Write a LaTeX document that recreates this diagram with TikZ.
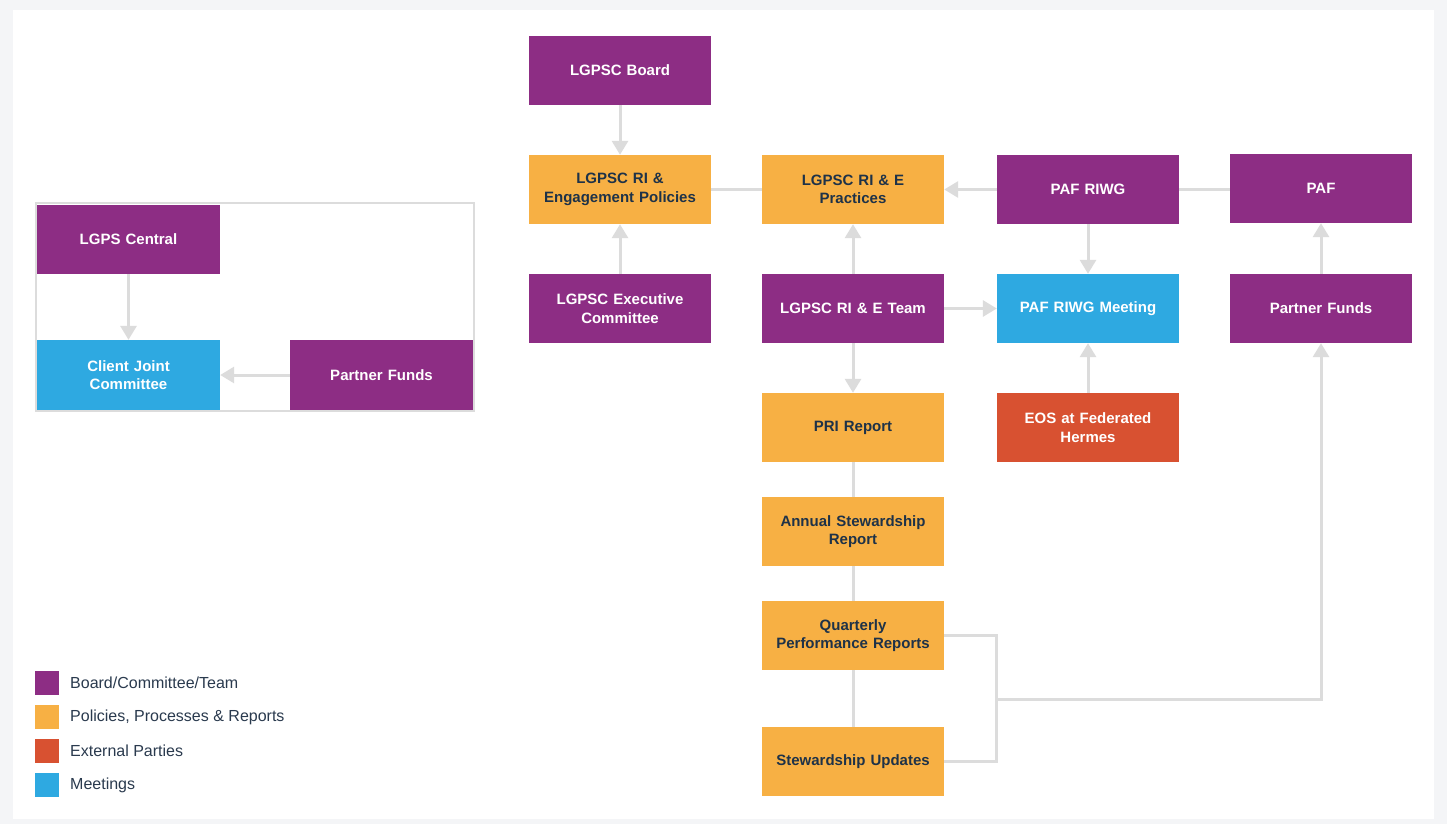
\documentclass[tikz,border=0pt]{standalone}
\usepackage{fontspec}
\setmainfont{Liberation Sans}
\usetikzlibrary{arrows.meta}
\definecolor{bgc}{HTML}{F4F5F7}
\definecolor{cpurp}{HTML}{8D2D84}
\definecolor{corange}{HTML}{F7B044}
\definecolor{cred}{HTML}{D85131}
\definecolor{cblue}{HTML}{2EA9E1}
\definecolor{cline}{HTML}{DCDCDC}
\definecolor{cnavy}{HTML}{1E3248}
\definecolor{ctext}{HTML}{2A3A4E}
\begin{document}
\begin{tikzpicture}[x=1pt,y=-1pt,
  box/.style={minimum width=182pt,minimum height=69pt,inner sep=0pt,text width=178pt,align=center,font=\bfseries\fontsize{15}{18.5}\selectfont},
  purp/.style={box,fill=cpurp,text=white},
  orng/.style={box,fill=corange,text=cnavy},
  redb/.style={box,fill=cred,text=white},
  blub/.style={box,fill=cblue,text=white},
  conn/.style={draw=cline,line width=3pt},
  arr/.style={conn,-{Triangle[width=16pt,length=14pt]}},
  legsq/.style={minimum size=24pt,inner sep=0pt},
  legtx/.style={anchor=west,inner sep=0pt,text=ctext,font=\fontsize{16}{18}\selectfont}]
\fill[bgc] (0,0) rectangle (1447,824);
\fill[white] (13,10) rectangle (1434,819);
\useasboundingbox (0,0) rectangle (1447,824);

% left group
\draw[cline,line width=2pt] (36,203) rectangle (474,411);
\node[purp,minimum width=183pt] (lgps) at (128.5,239.5) {LGPS Central};
\node[blub,minimum width=183pt,minimum height=70pt] (cjc) at (128.5,375) {Client Joint\\Committee};
\node[purp,minimum width=183pt,minimum height=70pt] (pfl) at (381.5,375) {Partner Funds};
\draw[arr] (lgps) -- (cjc);
\draw[arr] (pfl) -- (cjc);

% main
\node[purp] (board) at (620,70.5) {LGPSC Board};
\node[orng] (pol) at (620,189.5) {LGPSC RI \&\\Engagement Policies};
\node[purp] (exec) at (620,308.5) {LGPSC Executive\\Committee};
\node[orng] (prac) at (853,189.5) {LGPSC RI \& E\\Practices};
\node[purp] (team) at (853,308.5) {LGPSC RI \& E Team};
\node[orng] (pri) at (853,427.5) {PRI Report};
\node[orng] (asr) at (853,531.5) {Annual Stewardship\\Report};
\node[orng] (qpr) at (853,635.5) {Quarterly\\Performance Reports};
\node[orng] (su) at (853,761.5) {Stewardship Updates};
\node[purp] (riwg) at (1088,189.5) {PAF RIWG};
\node[blub] (meet) at (1088,308.5) {PAF RIWG Meeting};
\node[redb] (eos) at (1088,427.5) {EOS at Federated\\Hermes};
\node[purp] (paf) at (1321,188.5) {PAF};
\node[purp] (pfr) at (1321,308.5) {Partner Funds};

\draw[arr] (board) -- (pol);
\draw[arr] (exec) -- (pol);
\draw[conn] (pol) -- (prac);
\draw[arr] (riwg) -- (prac);
\draw[conn] (riwg) -- (paf.west |- riwg.east);
\draw[arr] (riwg) -- (meet);
\draw[arr] (team) -- (prac);
\draw[arr] (team) -- (meet);
\draw[arr] (team) -- (pri);
\draw[arr] (eos) -- (meet);
\draw[arr] (pfr) -- (paf);
\draw[conn] (pri) -- (asr);
\draw[conn] (asr) -- (qpr);
\draw[conn] (qpr) -- (su);
\coordinate (j1) at (996,699);
\draw[conn,line join=miter] (qpr.east) -| (j1);
\draw[conn,line join=miter] (su.east) -| (j1);
\draw[arr,line join=miter] (j1) -| (pfr.south);

% legend
\node[legsq,fill=cpurp] (l1) at (47,683) {};
\node[legsq,fill=corange] (l2) at (47,717) {};
\node[legsq,fill=cred] (l3) at (47,751) {};
\node[legsq,fill=cblue] (l4) at (47,785) {};
\node[legtx] (t1) at (70,683) {Board/Committee/Team};
\node[legtx] (t2) at (70,717) {Policies, Processes \& Reports};
\node[legtx] (t3) at (70,751) {External Parties};
\node[legtx] (t4) at (70,785) {Meetings};
\end{tikzpicture}
\end{document}
